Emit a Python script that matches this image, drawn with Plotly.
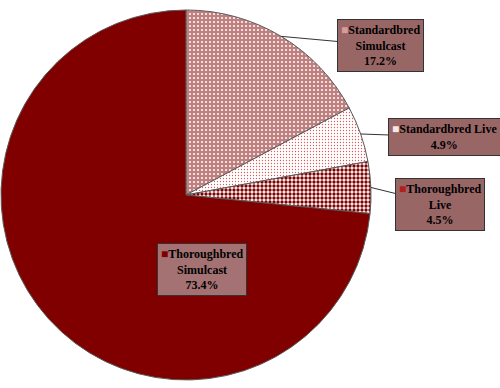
import math
import plotly.graph_objects as go

labels = ["Standardbred Simulcast", "Standardbred Live", "Thoroughbred Live", "Thoroughbred Simulcast"]
label_lines = [["Standardbred", "Simulcast"], ["Standardbred Live"], ["Thoroughbred", "Live"], ["Thoroughbred", "Simulcast"]]
values = [17.2, 4.9, 4.5, 73.4]
colors = ["#C08080", "#FFFFFF", "#FFFFFF", "#800000"]
key_colors = ["#D89A9A", "#F4E8E8", "#B02020", "#800000"]
pattern_shapes = [".", ".", ".", ""]
pattern_fg = ["#FFFFFF", "#D06060", "#800000", "#800000"]
pattern_bg = ["#C08080", "#FFFFFF", "#FFFFFF", "#800000"]
pattern_size = [4, 3, 4, 4]
pattern_sol = [0.2, 0.15, 0.55, 0.3]

W, H = 500, 388
cx, cy, r = 186, 195, 185
FONT = "Times New Roman, Times, serif"

fig = go.Figure(go.Pie(
    labels=labels, values=values, sort=False, direction="clockwise", rotation=0,
    textinfo="none", hoverinfo="label+percent", showlegend=False,
    marker=dict(colors=colors, line=dict(color="#5A5A5A", width=1),
                pattern=dict(shape=pattern_shapes, fgcolor=pattern_fg, bgcolor=pattern_bg,
                             size=pattern_size, solidity=pattern_sol, fgopacity=1,
                             fillmode="overlay")),
    domain=dict(x=[0, 372 / W], y=[1 - 380 / H, 1 - 10 / H]),
))

# label box offsets (pixels) from the slice edge midpoint; None = inside the pie
offsets = [(99, 9), (84, 3), (69, 17), None]
inside_center = (202, 269)

total = sum(values)
cum = 0
for i, v in enumerate(values):
    mid = (cum + v / 2) / total * 2 * math.pi
    cum += v
    px = cx + r * math.sin(mid)
    py = cy - r * math.cos(mid)
    key = f"<span style='color:{key_colors[i]}'>■</span>"
    text = "<b>" + key + label_lines[i][0] + "<br>" + "<br>".join(label_lines[i][1:] + [f"{v:.1f}%"]) + "</b>"
    common = dict(text=text, font=dict(family=FONT, size=12, color="#000000"),
                  bgcolor="#996666" if offsets[i] else "#A47272", bordercolor="#333333",
                  borderwidth=1, borderpad=3, align="center", xref="paper", yref="paper")
    if offsets[i]:
        ax, ay = offsets[i]
        fig.add_annotation(x=px / W, y=1 - py / H, ax=ax, ay=ay, showarrow=True,
                           arrowhead=0, arrowwidth=1, arrowcolor="#333333", **common)
    else:
        fig.add_annotation(x=inside_center[0] / W, y=1 - inside_center[1] / H,
                           xanchor="center", yanchor="middle", showarrow=False, **common)

fig.update_layout(width=W, height=H, margin=dict(l=0, r=0, t=0, b=0),
                  paper_bgcolor="white", plot_bgcolor="white", font=dict(family=FONT))
fig.write_html("out.html")
